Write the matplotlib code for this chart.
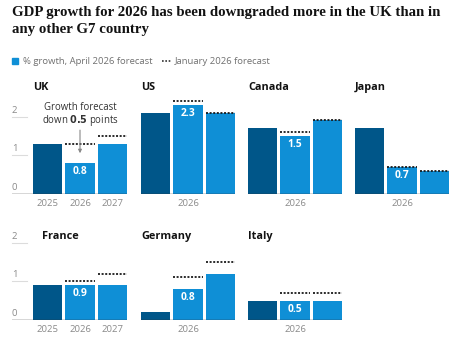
import matplotlib
matplotlib.use("Agg")
import matplotlib.pyplot as plt

W, H, DPI = 465, 350, 100

countries = ["UK", "US", "Canada", "Japan", "France", "Germany", "Italy"]
years = ["2025", "2026", "2027"]
april = {
    "UK": [1.3, 0.8, 1.3],
    "US": [2.1, 2.3, 2.1],
    "Canada": [1.7, 1.5, 1.9],
    "Japan": [1.7, 0.7, 0.6],
    "France": [0.9, 0.9, 0.9],
    "Germany": [0.2, 0.8, 1.2],
    "Italy": [0.5, 0.5, 0.5],
}
# January 2026 forecast for 2026 and 2027
january = {
    "UK": [1.3, 1.5],
    "US": [2.4, 2.1],
    "Canada": [1.6, 1.9],
    "Japan": [0.7, 0.6],
    "France": [1.0, 1.2],
    "Germany": [1.1, 1.5],
    "Italy": [0.7, 0.7],
}
labelled = {"UK": "0.8", "US": "2.3", "Canada": "1.5", "Japan": "0.7",
            "France": "0.9", "Germany": "0.8", "Italy": "0.5"}
yticks = [0, 1, 2]

DARK = "#005689"
LIGHT = "#0f8fd6"
GREY = "#8a8a8a"
TXT = "#121212"

plt.rcParams["font.family"] = ["Open Sans", "DejaVu Sans"]
fig = plt.figure(figsize=(W / DPI, H / DPI), dpi=DPI)

fig.text(12 / W, 1 - 6 / H,
         "GDP growth for 2026 has been downgraded more in the UK than in\nany other G7 country",
         family="Liberation Serif", weight="bold", fontsize=10.7, color=TXT,
         va="top", ha="left", linespacing=1.35)

# legend
fig.patches.append(plt.Rectangle((12 / W, 1 - 64 / H), 6 / W, 6 / H,
                                 transform=fig.transFigure, color=LIGHT))
fig.text(23 / W, 1 - 61 / H, "% growth, April 2026 forecast", fontsize=6.8,
         color="#707070", va="center")
fig.lines.append(plt.Line2D([162 / W, 171 / W], [1 - 61 / H] * 2, transform=fig.transFigure,
                            color="#333333", lw=1.2, ls=(0, (1, 1))))
fig.text(175 / W, 1 - 61 / H, "January 2026 forecast", fontsize=6.8,
         color="#707070", va="center")

UNIT = 38.75
YMAX = 2.5
lefts = [33, 141, 248, 355, 33, 141, 248]
baselines = [194, 194, 194, 194, 320, 320, 320]
PANEL_W = 94
PX = 32.4  # pixels per x unit

for i, c in enumerate(countries):
    left, base = lefts[i], baselines[i]
    ext = 21 if left == 33 else 0
    h = YMAX * UNIT
    ax = fig.add_axes([(left - ext) / W, 1 - base / H, (PANEL_W + ext) / W, h / H])
    x0 = -0.45 - ext / PX
    ax.set_xlim(x0, 2.45)
    ax.set_ylim(0, YMAX)
    ax.axis("off")
    ax.bar(range(3), april[c], width=0.9, color=[DARK, LIGHT, LIGHT], zorder=2)
    for j, v in enumerate(january[c]):
        ax.plot([j + 1 - 0.45, j + 1 + 0.45], [v, v], color="#1a1a1a", lw=1.3,
                ls=(0, (1.1, 0.9)), zorder=3)
    ax.axhline(0, color="#333333", lw=1.0, zorder=4)
    ax.text(1, april[c][1] - 0.08, labelled[c], color="white", weight="bold",
            fontsize=7.4, ha="center", va="top", zorder=5)

    # first column shows every year, the others only the downgraded one
    if ext:
        for j, y in enumerate(years):
            ax.text(j, -0.12, y, ha="center", va="top", fontsize=6.8, color=GREY)
    else:
        ax.text(1, -0.12, "2026", ha="center", va="top", fontsize=6.8, color=GREY)

    if ext:
        for t in yticks:
            if t:
                ax.plot([x0, x0 + 15 / PX], [t, t], color="#dcdcdc", lw=0.8,
                        clip_on=False)
            ax.text(x0, t + 0.05, str(t), fontsize=6.8, color=GREY, ha="left",
                    va="bottom")

    if base == 194:
        title_x, title_y = -0.45, 2.75
    else:
        title_x, title_y = (-0.45 + 9 / PX if ext else -0.45), 2.15
    ax.text(title_x, title_y, c, fontsize=7.8, weight="bold", color=TXT,
            ha="left", va="center", clip_on=False)

    if c == "UK":
        ax.text(1, 2.22, "Growth forecast", fontsize=6.9, color="#333333",
                ha="center", va="center")
        ax.text(1, 1.89, r"down $\bf{0.5}$ points", fontsize=6.9, color="#333333",
                ha="center", va="center")
        ax.annotate("", xy=(1, 0.98), xytext=(1, 1.72),
                    arrowprops=dict(arrowstyle="-|>", color="#888888", lw=0.8,
                                    mutation_scale=5))

fig.savefig("out.png", dpi=DPI)
